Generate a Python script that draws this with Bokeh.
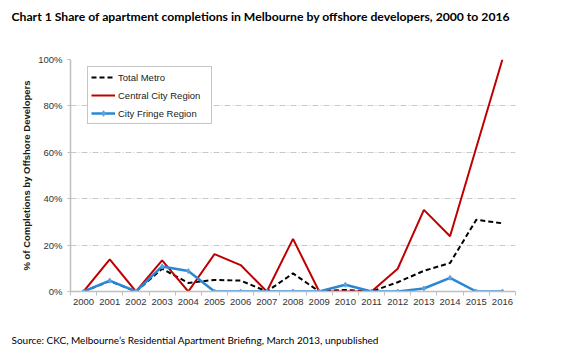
from bokeh.plotting import figure
from bokeh.models import (ColumnDataSource, FixedTicker, PrintfTickFormatter, Legend, LegendItem,
                          Title, Range1d)
from bokeh.embed import file_html
from bokeh.resources import INLINE

years = list(range(2000, 2017))
year_labels = [str(y) for y in years]
total_metro = [0, 4.5, 0, 9.8, 3.7, 5.0, 4.7, 0, 7.8, 0, 0.7, 0, 4.0, 8.9, 12.3, 30.9, 29.4]
central_city = [0, 13.8, 0, 13.4, 0, 16.1, 11.4, 0, 22.7, 0, 0, 0, 9.8, 35.2, 23.8, 62.0, 100.0]
city_fringe = [0, 4.7, 0, 10.8, 8.8, 0, 0, 0, 0, 0, 2.9, 0, 0, 1.3, 5.9, 0, 0]
y_ticks = [0, 20, 40, 60, 80, 100]

title_text = "Chart 1 Share of apartment completions in Melbourne by offshore developers, 2000 to 2016"
source_text = "Source: CKC, Melbourne\u2019s Residential Apartment Briefing, March 2013, unpublished"
y_label = "% of Completions by Offshore Developers"

src = ColumnDataSource(dict(x=years, total=total_metro, central=central_city, fringe=city_fringe))

FONT = "Liberation Sans"

p = figure(width=583, height=357, output_backend="svg", toolbar_location=None,
           x_range=Range1d(1999.5, 2016.5), y_range=Range1d(0, 100),
           min_border_left=70, min_border_right=68, min_border_top=59, min_border_bottom=66)
p.title.visible = False
p.outline_line_color = None
p.background_fill_color = "white"
p.border_fill_color = "white"

# axes
xa = p.xaxis[0]
xa.ticker = FixedTicker(ticks=years, minor_ticks=[y - 0.5 for y in years] + [2016.5])
xa.major_tick_out = 0
xa.major_tick_in = 0
xa.minor_tick_out = 4
xa.minor_tick_in = 0
xa.minor_tick_line_color = "#BFBFBF"
xa.axis_line_color = "#BFBFBF"
xa.axis_line_width = 1.5
xa.major_label_standoff = 3
xa.major_label_text_font = FONT
xa.major_label_text_font_size = "9.5px"
xa.major_label_text_color = "#333333"

ya = p.yaxis[0]
ya.ticker = FixedTicker(ticks=y_ticks)
ya.formatter = PrintfTickFormatter(format="%d%%")
ya.major_tick_out = 3
ya.major_tick_in = 0
ya.minor_tick_out = 0
ya.minor_tick_in = 0
ya.major_tick_line_color = "#BFBFBF"
ya.axis_line_color = "#BFBFBF"
ya.axis_line_width = 1.5
ya.major_label_standoff = 5
ya.major_label_text_font = FONT
ya.major_label_text_font_size = "9.5px"
ya.major_label_text_color = "#333333"
ya.axis_label = y_label
ya.axis_label_text_font = FONT
ya.axis_label_text_font_size = "9.5px"
ya.axis_label_text_font_style = "bold"
ya.axis_label_text_color = "#1a1a1a"
ya.axis_label_standoff = 3

p.xgrid.visible = False
p.ygrid.ticker = FixedTicker(ticks=y_ticks[1:])
p.ygrid.grid_line_color = "#C8C8C8"
p.ygrid.grid_line_dash = "6 2 1 2"
p.ygrid.grid_line_width = 1

r_total = p.line("x", "total", source=src, line_color="black", line_width=2, line_dash="5 3")
r_central = p.line("x", "central", source=src, line_color="#C00000", line_width=2)
r_fringe = p.line("x", "fringe", source=src, line_color="#2A87D6", line_width=2.5)
r_fringe_pts = p.scatter("x", "fringe", source=src, marker="diamond", size=5,
                         fill_color="#5BA3E0", line_color="#5BA3E0")

legend = Legend(items=[LegendItem(label="Total Metro", renderers=[r_total]),
                       LegendItem(label="Central City Region", renderers=[r_central]),
                       LegendItem(label="City Fringe Region", renderers=[r_fringe, r_fringe_pts])],
                location=(17, 167), padding=3, spacing=4, glyph_height=14, label_height=14,
                glyph_width=24, label_standoff=3, label_width=90, margin=0,
                border_line_color="#8C8C8C", border_line_width=1,
                background_fill_color="white", background_fill_alpha=1,
                label_text_font=FONT, label_text_font_size="9.5px", label_text_color="#1a1a1a")
p.add_layout(legend, "center")

# spacers (nearest the frame) then the title and the source note
p.add_layout(Title(text=" ", standoff=33, text_font_size="1px"), "above")
p.add_layout(Title(text=title_text, align="left", offset=-59, standoff=0, vertical_align="bottom",
                   text_font="Lato", text_font_style="bold", text_font_size="12.2px",
                   text_color="black"), "above")
p.add_layout(Title(text=" ", standoff=21, text_font_size="1px"), "below")
p.add_layout(Title(text=source_text, align="left", offset=-59, standoff=0, vertical_align="bottom",
                   text_font="Lato", text_font_style="normal", text_font_size="10px",
                   text_color="black"), "below")

open("out.html", "w").write(file_html(p, INLINE))
